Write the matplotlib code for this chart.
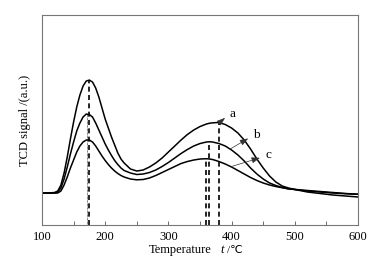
import matplotlib.pyplot as plt
import numpy as np

plt.rcParams['font.family'] = ['Liberation Serif', 'DejaVu Sans']

# temperature (C) and TCD signal (arbitrary units)
temp = [100, 110, 120, 125, 130, 135, 140, 145, 150, 155, 160, 165, 170, 175,
        180, 185, 190, 195, 200, 205, 210, 215, 220, 225, 230, 240, 250, 260,
        270, 280, 290, 300, 310, 320, 330, 340, 350, 360, 365, 370, 380, 390,
        400, 410, 420, 430, 440, 450, 460, 470, 480, 490, 500, 520, 540, 560,
        580, 600]
sig_a = [32, 32, 32.5, 34, 40, 52, 68, 86, 103, 118, 130, 139, 144, 145,
         143, 137, 128, 117, 106, 97, 88, 80, 72, 66, 62, 56, 54, 55,
         58, 62, 67, 73, 79, 85, 90.5, 95, 98.5, 101, 101.8, 102.2, 102.6, 100.5,
         97, 92, 85, 76, 66, 57, 49, 43, 39, 37, 35.5, 33, 31.5, 30,
         29, 28]
sig_b = [32, 32, 32, 33, 37, 46, 58, 71, 83, 94, 102, 108, 111, 110.5,
         108, 102, 95, 88, 81, 75, 69.5, 64.5, 60.5, 57, 54.5, 52, 50.5, 51,
         52.5, 55, 58.5, 62.5, 67, 71.5, 75.5, 79, 81.5, 83, 83.3, 83, 81.5, 79,
         75, 70, 64, 57, 51, 46, 42, 39.5, 37.5, 36, 35.5, 34, 33, 32,
         31.3, 30.7]
sig_c = [32, 32, 32, 32, 34, 40, 48, 57, 65, 73, 79, 83, 85, 85,
         83, 79, 74, 69, 64.5, 60.5, 57, 54, 51.5, 49.5, 48, 46, 45.2, 45.5,
         47, 49.5, 52.5, 55.5, 58.5, 61.5, 63.5, 65, 66, 66.3, 66, 65.5, 63.5, 61,
         58, 54.5, 51, 47.5, 44.5, 42, 40, 38.5, 37.3, 36.3, 35.6, 34.5, 33.5, 32.5,
         31.5, 30.8]

labels = ['a', 'b', 'c']
series = [sig_a, sig_b, sig_c]

fig = plt.figure(figsize=(3.85, 2.65), dpi=100)
ax = fig.add_axes([0.109, 0.151, 0.821, 0.792])

t = np.array(temp)
for s in series:
    ax.plot(t, s, color='black', lw=1.1)

# peak markers
lo = t < 250
hi = t >= 250
for i, s in enumerate(series):
    s = np.array(s)
    k = np.argmax(np.where(lo, s, -1))
    if i == 0:
        ax.plot([t[k], t[k]], [0, s[k]], color='black', lw=1.2, ls=(0, (3, 2)))
    elif i == 1:
        ax.plot([t[k] + 1, t[k] + 1], [0, s[k]], color='black', lw=0.5, ls=(0, (1, 1)))
    k = np.argmax(np.where(hi, s, -1))
    ax.plot([t[k], t[k]], [0, s[k]], color='black', lw=1.2, ls=(0, (3, 2)))

# arrows with letters
arrow_from = [(380, 102), (395, 75), (397, 58)]
arrow_to = [(393, 109), (430, 88), (449, 68)]
for lab, p0, p1 in zip(labels, arrow_from, arrow_to):
    ax.annotate('', xy=p1, xytext=p0,
                arrowprops=dict(arrowstyle='-|>,head_length=0.5,head_width=0.18',
                                color='#333333', lw=0.5))
    ax.text(p1[0] + 4, p1[1] + 2, lab, fontsize=9.5, ha='left', va='center')

ax.set_xlim(100, 600)
ax.set_ylim(0, 210)
ax.set_xticks([100, 200, 300, 400, 500, 600])
ax.set_xticks(np.arange(150, 600, 100), minor=True)
ax.tick_params(axis='x', which='both', direction='in', length=3, width=0.6,
               color='#555555', labelsize=9, pad=4)
ax.set_yticks([])
for sp in ax.spines.values():
    sp.set_color('#777777')
    sp.set_linewidth(0.8)

ax.set_ylabel('TCD signal /(a.u.)', fontsize=9, labelpad=8)
ax.text(0.338, -0.12, 'Temperature', transform=ax.transAxes, fontsize=9,
        ha='left', va='center')
ax.text(0.565, -0.12, 't', transform=ax.transAxes, fontsize=9, style='italic',
        ha='left', va='center')
ax.text(0.585, -0.12, '/℃', transform=ax.transAxes, fontsize=8,
        ha='left', va='center')

fig.savefig('out.png', dpi=100)
